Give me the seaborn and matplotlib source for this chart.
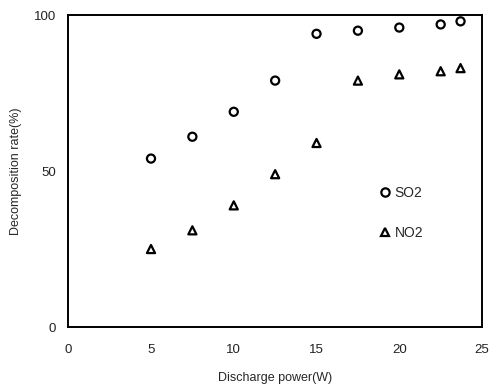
import matplotlib
matplotlib.use("Agg")
import matplotlib.pyplot as plt
import seaborn as sns
import pandas as pd

power_so2 = [5, 7.5, 10, 12.5, 15, 17.5, 20, 22.5, 23.7]
so2 = [54, 61, 69, 79, 94, 95, 96, 97, 98]
power_no2 = [5, 7.5, 10, 12.5, 15, 17.5, 20, 22.5, 23.7]
no2 = [25, 31, 39, 49, 59, 79, 81, 82, 83]

df = pd.concat([
    pd.DataFrame({"power": power_so2, "rate": so2, "gas": "SO2"}),
    pd.DataFrame({"power": power_no2, "rate": no2, "gas": "NO2"}),
])

sns.set_style("white")
plt.rcParams["font.family"] = ["Liberation Sans", "DejaVu Sans"]

fig = plt.figure(figsize=(4.98, 3.87), dpi=100)
ax = fig.add_axes([0.137, 0.155, 0.831, 0.806])
sns.scatterplot(data=df, x="power", y="rate", hue="gas", style="gas",
                markers={"SO2": "o", "NO2": "^"},
                palette={"SO2": "white", "NO2": "white"},
                edgecolor="black", linewidth=1.6, s=34, ax=ax, legend=False)
for c in ax.collections:
    c.set_edgecolor("black")
    c.set_facecolor("none")

ax.set_xlim(0, 25)
ax.set_ylim(0, 100)
ax.set_xticks([0, 5, 10, 15, 20, 25])
ax.set_yticks([0, 50, 100])
ax.tick_params(length=0, labelsize=9.5, colors="#222222")
ax.tick_params(axis="x", pad=12)
ax.tick_params(axis="y", pad=9)
for s in ax.spines.values():
    s.set_color("black")
    s.set_linewidth(1.4)
ax.set_xlabel("Discharge power(W)", fontsize=9, labelpad=12)
ax.set_ylabel("Decomposition rate(%)", fontsize=9)
ax.yaxis.set_label_coords(-0.112, 0.5)

# legend
from matplotlib.lines import Line2D
handles = [Line2D([], [], marker="o", ls="none", mfc="none", mec="black", mew=1.6, ms=6, label="SO2"),
           Line2D([], [], marker="^", ls="none", mfc="none", mec="black", mew=1.6, ms=6, label="NO2")]
ax.legend(handles=handles, loc="center left", bbox_to_anchor=(0.715, 0.365), frameon=False,
          fontsize=10, handletextpad=0.1, labelspacing=1.9, handlelength=1.2)

fig.savefig("out.png", dpi=100)
